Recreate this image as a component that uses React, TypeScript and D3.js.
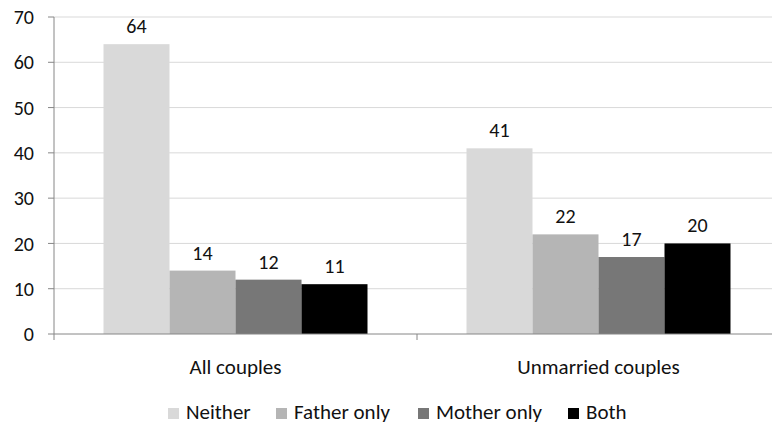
import React from "react";
import * as d3 from "d3";

const categories = ["All couples", "Unmarried couples"];
const seriesNames = ["Neither", "Father only", "Mother only", "Both"];
const neither = [64, 41];
const fatherOnly = [14, 22];
const motherOnly = [12, 17];
const both = [11, 20];
const yTicks = [0, 10, 20, 30, 40, 50, 60, 70];
const colors = ["#d9d9d9", "#b5b5b5", "#777777", "#000000"];

const W = 772;
const H = 428;
const FONT = "Carlito, Calibri, Lato, sans-serif";

export default function App() {
  const seriesValues = [neither, fatherOnly, motherOnly, both];
  const x0 = d3.scaleBand<string>().domain(categories).range([54, 780]).paddingInner(0).paddingOuter(0);
  const groupW = x0.bandwidth() * (264 / 363);
  const x1 = d3.scaleBand<string>().domain(seriesNames).range([0, groupW]).padding(0);
  const y = d3.scaleLinear().domain([0, 70]).range([334, 17]);

  const legendX = [168, 276, 418, 568];

  return (
    <svg width={W} height={H} style={{ position: "absolute", left: 0, top: 0, background: "#fff" }} fontFamily={FONT}>
      <rect x={0} y={0} width={W} height={H} fill="#fff" />
      {yTicks.map((t) => (
        <g key={t}>
          {t > 0 && <line x1={54} x2={780} y1={y(t)} y2={y(t)} stroke="#d9d9d9" strokeWidth={1} />}
          <line x1={48} x2={54} y1={y(t)} y2={y(t)} stroke="#868686" />
          <text x={34} y={y(t)} dy="0.36em" textAnchor="end" fontSize={20} fill="#111">{t}</text>
        </g>
      ))}
      {categories.map((c, ci) => {
        const gx = (x0(c) as number) + (x0.bandwidth() - groupW) / 2;
        return (
          <g key={c}>
            {seriesNames.map((s, si) => {
              const v = seriesValues[si][ci];
              const bx = gx + (x1(s) as number);
              return (
                <g key={s}>
                  <rect x={bx} y={y(v)} width={x1.bandwidth()} height={y(0) - y(v)} fill={colors[si]} />
                  <text x={bx + x1.bandwidth() / 2} y={y(v) - 11} textAnchor="middle" fontSize={20} fill="#111">{v}</text>
                </g>
              );
            })}
            <text x={(x0(c) as number) + x0.bandwidth() / 2} y={374} textAnchor="middle" fontSize={21} fill="#111">{c}</text>
          </g>
        );
      })}
      <line x1={54} x2={54} y1={y(70)} y2={y(0)} stroke="#868686" />
      <line x1={54} x2={780} y1={y(0)} y2={y(0)} stroke="#868686" />
      {[0, 1, 2].map((i) => (
        <line key={i} x1={54 + i * x0.bandwidth()} x2={54 + i * x0.bandwidth()} y1={y(0)} y2={y(0) + 6} stroke="#868686" />
      ))}
      {seriesNames.map((s, i) => (
        <g key={s}>
          <rect x={legendX[i]} y={408} width={11} height={11} fill={colors[i]} />
          <text x={legendX[i] + 18} y={419} fontSize={21} fill="#111">{s}</text>
        </g>
      ))}
    </svg>
  );
}
